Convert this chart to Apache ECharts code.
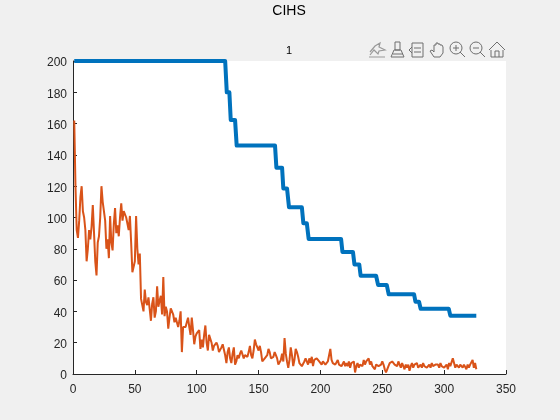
<!DOCTYPE html>
<html><head><meta charset="utf-8">
<style>html,body{margin:0;padding:0;background:#f0f0f0}#c{width:560px;height:420px}</style>
<script src="https://cdn.jsdelivr.net/npm/echarts@6/dist/echarts.min.js"></script>
</head><body><div id="c"></div>
<script>
const titleText = "CIHS";
const subTitle = "1";
const xTicks = [0,50,100,150,200,250,300,350];
const yTicks = [0,20,40,60,80,100,120,140,160,180,200];
const bestX = [1,123,124.3,126.4,127.5,131,132.3,163.3,164.4,169,170,173,174.6,185,186.2,189,190.5,216.7,217.8,226.3,227.5,231.4,232.5,245,246.6,253.6,255.2,275.7,276.8,279.7,281,303.7,305,326];
const bestY = [200,200,180,180,162.3,162.3,146,146,131.8,131.8,118.6,118.6,106.5,106.5,96.3,96.3,86.3,86.3,78,78,70,70,62.8,62.8,56.9,56.9,50.9,50.9,46.2,46.2,41.7,41.7,37.3,37.3];
const meanY = [
162,120,92,87,98,113,120,104,100,92,
72,80,92,86,94,108,90,72,63,84,
88,100,120,110,104,98,80,86,74,101,
84,79,96,106,90,95,88,100,109,98,
104,103,100,96,92,101,84,65,64,72,
101,80,70,77,48,44,40,54,46,44,
49,48,34,45,49,36,40,56,43,47,
50,38,62,37,43,40,29,36,42,40,
38,33,36,35,30,34,40,14,30,31,
30,33,36,30,25,36,28,19,24,26,
26,28,16,22,17,25,31,20,15,25,
25,20,15,18,17,20,18,14,15,17,
19,20,12,7,14,17,10,7,13,17,
6,8,12,10,13,15,14,10,12,11,
11,14,18,12,10,15,22,19,17,15,
18,14,8,9,10,11,12,16,14,10,
9,11,14,12,10,6,5,9,13,8,
23,13,8,4,9,17,12,5,9,16,
14,11,7,6,5,4,8,10,9,6,
10,7,11,5,9,8,10,9,8,7,
6,8,7,6,7,8,7,16,9,7,
8,6,7,9,6,7,5,6,8,5,
7,5,8,4,7,6,8,1,5,7,
4,6,7,5,9,6,8,7,10,6,
8,5,6,3,6,7,5,4,6,8,
6,3,1,3,5,7,6,8,7,6,
7,5,8,6,4,7,5,3,6,4,
6,2,5,7,4,6,5,7,4,5,
6,4,7,5,6,4,5,6,4,7,
5,4,6,5,6,4,7,5,6,4,
5,6,3,7,5,6,10,7,4,6,
5,4,6,5,4,6,5,3,6,4,
6,5,9,4,7,3];
const font = '"Liberation Sans", Arial, sans-serif';
const ink = '#262626', iconInk = '#6f6f6f';
const ico = (cx, children) => ({type:'group', x:cx, y:50, silent:true, children});
const st = {stroke:iconInk, fill:'none', lineWidth:1};
const chart = echarts.init(document.getElementById('c'), null, {renderer:'canvas'});
chart.setOption({
  animation:false,
  backgroundColor:'#f0f0f0',
  title:[
    {text:titleText, left:289, top:4, padding:0, textAlign:'center', textStyle:{fontFamily:font, fontSize:14, fontWeight:'normal', color:'#000'}},
    {text:subTitle, left:289, top:45, padding:0, textAlign:'center', textStyle:{fontFamily:font, fontSize:11, fontWeight:'normal', color:'#000'}}
  ],
  grid:{left:73, right:54, top:61, bottom:46, backgroundColor:'#fff', show:true, borderWidth:0},
  xAxis:{type:'value', min:0, max:350, interval:50,
    axisLine:{show:true, onZero:false, lineStyle:{color:ink, width:1}},
    axisTick:{show:true, inside:true, length:4, lineStyle:{color:ink}},
    axisLabel:{show:true, fontFamily:font, fontSize:12, color:ink, margin:10, showMinLabel:true, showMaxLabel:true,
      formatter:v=>xTicks.includes(v)?String(v):''},
    splitLine:{show:false}},
  yAxis:{type:'value', min:0, max:200, interval:20,
    axisLine:{show:true, onZero:false, lineStyle:{color:ink, width:1}},
    axisTick:{show:true, inside:true, length:4, lineStyle:{color:ink}},
    axisLabel:{show:true, fontFamily:font, fontSize:12, color:ink, margin:6, verticalAlign:'top', lineHeight:4,
      formatter:v=>yTicks.includes(v)?String(v):''},
    splitLine:{show:false}},
  series:[
    {type:'line', name:'best', symbol:'none', clip:false, data:bestX.map((x,i)=>[x,bestY[i]]), lineStyle:{color:'#0072BD', width:4, join:'round'}},
    {type:'line', name:'mean', symbol:'none', data:meanY.map((y,i)=>[i+1,y]), lineStyle:{color:'#D95319', width:2}}
  ],
  graphic:[
    ico(377,[{type:'polyline',shape:{points:[[-8,7],[8,7]]},style:{stroke:'#999',fill:'none',lineWidth:1}},{type:'polyline',shape:{points:[[-7,2],[-2,-4],[3,-7],[2,-3],[8,0],[2,1],[1,4],[-3,0],[-7,5]]},style:{stroke:'#999',fill:'none',lineWidth:1.2}}]),
    ico(398,[{type:'polyline',shape:{points:[[-3,-8],[2,-8],[2,0],[-3,0],[-3,-8]]},style:st},{type:'polyline',shape:{points:[[-4,0],[3,0],[6,7],[-7,7],[-4,0]]},style:st},{type:'polyline',shape:{points:[[-5,4],[5,4]]},style:st}]),
    ico(417,[{type:'rect',shape:{x:-5,y:-7,width:11,height:14},style:st},{type:'polyline',shape:{points:[[-3,-2],[4,-2]]},style:st},{type:'polyline',shape:{points:[[-3,2],[4,2]]},style:st},{type:'polyline',shape:{points:[[-5,-3],[-8,0],[-5,3]]},style:st}]),
    ico(437,[{type:'polyline',shape:{points:[[-3,7],[-7,1],[-5,0],[-3,2],[-3,-5],[-1,-5],[-1,-7],[1,-7],[1,-6],[3,-6],[3,-5],[5,-5],[6,-3],[6,3],[3,7],[-3,7]]},style:st}]),
    ico(457,[{type:'circle',shape:{cx:-1,cy:-2,r:6},style:st},{type:'polyline',shape:{points:[[3,2],[8,7]]},style:st},{type:'polyline',shape:{points:[[-4,-2],[2,-2]]},style:st},{type:'polyline',shape:{points:[[-1,-5],[-1,1]]},style:st}]),
    ico(477,[{type:'circle',shape:{cx:-1,cy:-2,r:6},style:st},{type:'polyline',shape:{points:[[3,2],[8,7]]},style:st},{type:'polyline',shape:{points:[[-4,-2],[2,-2]]},style:st}]),
    ico(497,[{type:'polyline',shape:{points:[[-8,0],[0,-8],[8,0]]},style:st},{type:'polyline',shape:{points:[[-6,0],[-6,7],[6,7],[6,0]]},style:st},{type:'polyline',shape:{points:[[-2,7],[-2,1],[2,1],[2,7]]},style:st}])
  ]
});
</script></body></html>
